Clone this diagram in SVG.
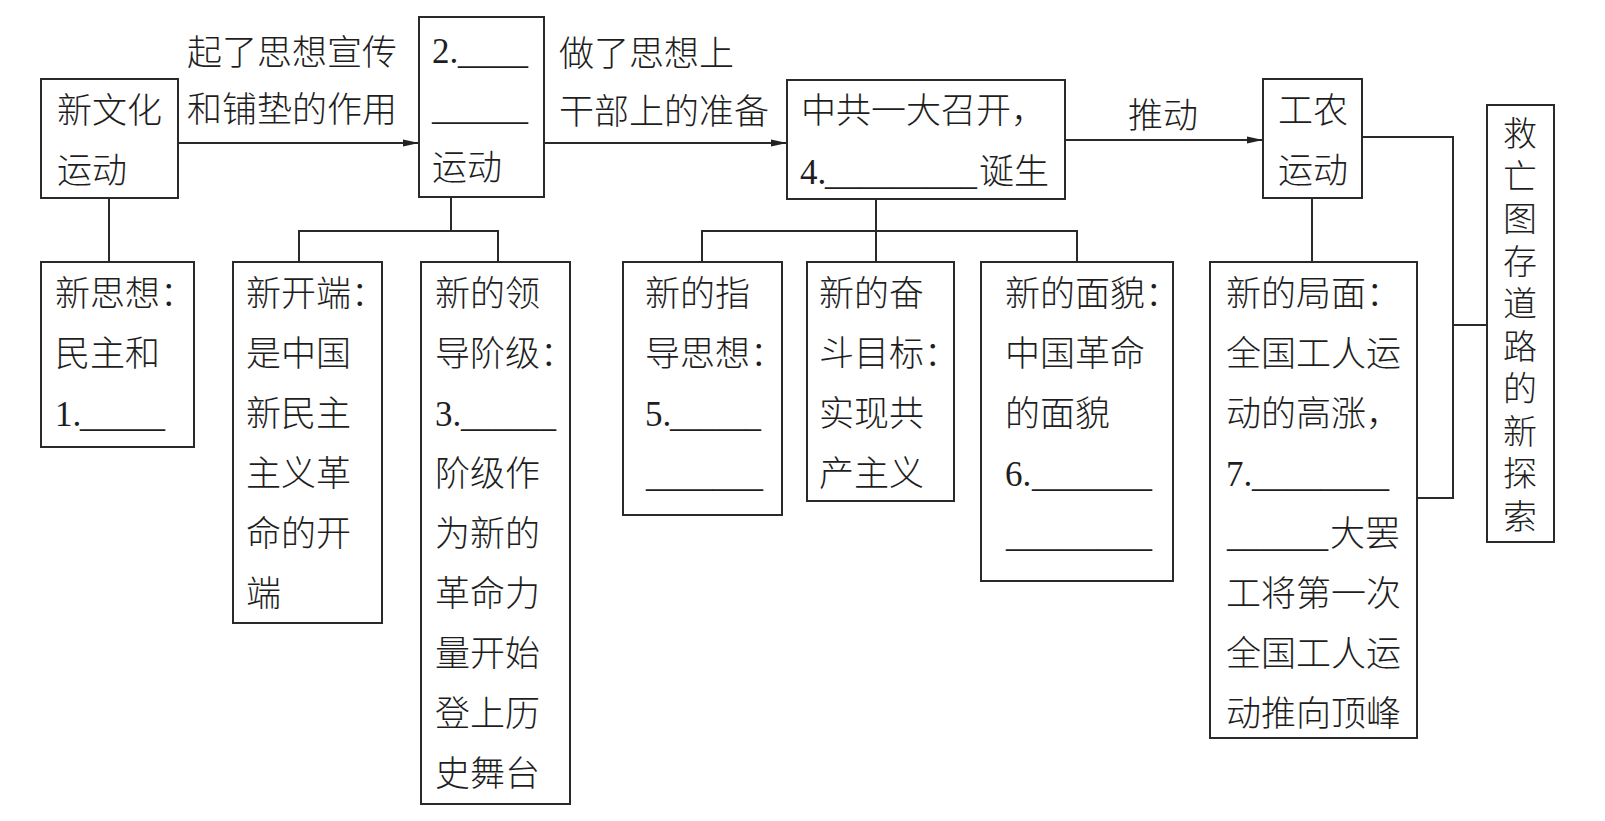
<svg xmlns="http://www.w3.org/2000/svg" width="1605" height="821" viewBox="0 0 1605 821">
<defs>
<marker id="arr" markerUnits="userSpaceOnUse" markerWidth="16" markerHeight="8" refX="16" refY="4" orient="auto">
<path d="M0,0.5 L16,4 L0,7.5 z" fill="#222"/>
</marker>
<style>
.box{fill:#fff;stroke:#2a2a2a;stroke-width:2}
.ln{fill:none;stroke:#2a2a2a;stroke-width:2}
text{font-family:'Liberation Serif','Noto Sans CJK SC',serif;font-size:35px;fill:#1e1e1e;font-weight:300}
.v{font-size:34px}
</style>
</defs>
<rect width="1605" height="821" fill="#fff"/>
<g id="connectors">
<line class="ln" x1="179" y1="143" x2="419" y2="143" marker-end="url(#arr)"/>
<line class="ln" x1="544" y1="143" x2="787" y2="143" marker-end="url(#arr)"/>
<line class="ln" x1="1065" y1="140" x2="1263" y2="140" marker-end="url(#arr)"/>
<line class="ln" x1="109" y1="198" x2="109" y2="262"/>
<polyline class="ln" points="451,197 451,231"/>
<polyline class="ln" points="299,262 299,231 498,231 498,262"/>
<polyline class="ln" points="876,199 876,262"/>
<polyline class="ln" points="702,262 702,231 1077,231 1077,262"/>
<line class="ln" x1="1312" y1="198" x2="1312" y2="262"/>
<polyline class="ln" points="1362,137 1453,137 1453,498 1417,498"/>
<line class="ln" x1="1453" y1="325" x2="1487" y2="325"/>
<text x="187" y="65">起了思想宣传</text>
<text x="187" y="122">和铺垫的作用</text>
<text x="559" y="66">做了思想上</text>
<text x="559" y="124">干部上的准备</text>
<text x="1128" y="128">推动</text>
</g>
<g id="node-a">
<rect class="box" x="41" y="79" width="137" height="119"/>
<text x="57" y="123">新文化</text>
<text x="57" y="183">运动</text>
</g>
<g id="node-b">
<rect class="box" x="419" y="17" width="125" height="180"/>
<text x="432" y="63">2.</text>
<text x="458" y="63" textLength="70" lengthAdjust="spacingAndGlyphs">____</text>
<text x="432" y="119" textLength="96" lengthAdjust="spacingAndGlyphs">______</text>
<text x="432" y="180">运动</text>
</g>
<g id="node-c">
<rect class="box" x="787" y="80" width="278" height="119"/>
<text x="801" y="123">中共一大召开，</text>
<text x="800" y="184">4.</text>
<text x="825" y="184" textLength="152" lengthAdjust="spacingAndGlyphs">_________</text>
<text x="979" y="184">诞生</text>
</g>
<g id="node-d">
<rect class="box" x="1263" y="79" width="99" height="119"/>
<text x="1278" y="123">工农</text>
<text x="1278" y="183">运动</text>
</g>
<g id="node-e">
<rect class="box" x="41" y="262" width="153" height="185"/>
<text x="55" y="306">新思想：</text>
<text x="55" y="366">民主和</text>
<text x="55" y="426">1.</text>
<text x="80" y="426" textLength="85" lengthAdjust="spacingAndGlyphs">_____</text>
</g>
<g id="node-f">
<rect class="box" x="233" y="262" width="149" height="361"/>
<text x="246" y="306">新开端：</text>
<text x="246" y="366">是中国</text>
<text x="246" y="426">新民主</text>
<text x="246" y="486">主义革</text>
<text x="246" y="546">命的开</text>
<text x="246" y="606">端</text>
</g>
<g id="node-g">
<rect class="box" x="421" y="262" width="149" height="542"/>
<text x="435" y="306">新的领</text>
<text x="435" y="366">导阶级：</text>
<text x="435" y="426">3.</text>
<text x="461" y="426" textLength="95" lengthAdjust="spacingAndGlyphs">______</text>
<text x="435" y="486">阶级作</text>
<text x="435" y="546">为新的</text>
<text x="435" y="606">革命力</text>
<text x="435" y="666">量开始</text>
<text x="435" y="726">登上历</text>
<text x="435" y="786">史舞台</text>
</g>
<g id="node-i">
<rect class="box" x="623" y="262" width="159" height="253"/>
<text x="645" y="306">新的指</text>
<text x="645" y="366">导思想：</text>
<text x="645" y="426">5.</text>
<text x="670" y="426" textLength="91" lengthAdjust="spacingAndGlyphs">______</text>
<text x="646" y="486" textLength="117" lengthAdjust="spacingAndGlyphs">_______</text>
</g>
<g id="node-j">
<rect class="box" x="807" y="262" width="147" height="239"/>
<text x="819" y="306">新的奋</text>
<text x="819" y="366">斗目标：</text>
<text x="819" y="426">实现共</text>
<text x="819" y="486">产主义</text>
</g>
<g id="node-k">
<rect class="box" x="981" y="262" width="192" height="319"/>
<text x="1005" y="306">新的面貌：</text>
<text x="1005" y="366">中国革命</text>
<text x="1005" y="426">的面貌</text>
<text x="1005" y="486">6.</text>
<text x="1032" y="486" textLength="120" lengthAdjust="spacingAndGlyphs">________</text>
<text x="1006" y="546" textLength="146" lengthAdjust="spacingAndGlyphs">________</text>
</g>
<g id="node-l">
<rect class="box" x="1210" y="262" width="207" height="476"/>
<text x="1226" y="306">新的局面：</text>
<text x="1226" y="366">全国工人运</text>
<text x="1226" y="426">动的高涨，</text>
<text x="1226" y="486">7.</text>
<text x="1252" y="486" textLength="137" lengthAdjust="spacingAndGlyphs">________</text>
<text x="1227" y="546" textLength="101" lengthAdjust="spacingAndGlyphs">______</text>
<text x="1330" y="546">大罢</text>
<text x="1226" y="606">工将第一次</text>
<text x="1226" y="666">全国工人运</text>
<text x="1226" y="726">动推向顶峰</text>
</g>
<g id="node-h">
<rect class="box" x="1487" y="105" width="67" height="437"/>
<text class="v" text-anchor="middle"><tspan x="1520" y="146">救</tspan><tspan x="1520" y="189">亡</tspan><tspan x="1520" y="231">图</tspan><tspan x="1520" y="274">存</tspan><tspan x="1520" y="316">道</tspan><tspan x="1520" y="359">路</tspan><tspan x="1520" y="401">的</tspan><tspan x="1520" y="444">新</tspan><tspan x="1520" y="486">探</tspan><tspan x="1520" y="529">索</tspan></text>
</g>
</svg>
